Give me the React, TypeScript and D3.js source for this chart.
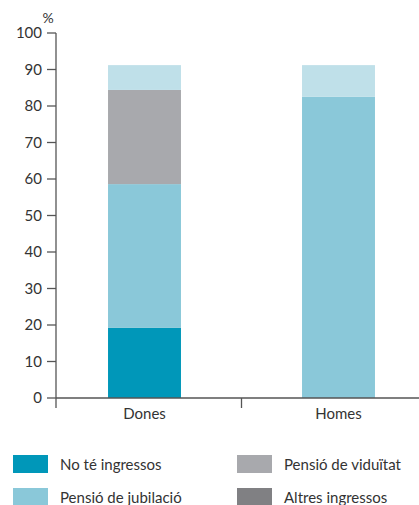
import React from "react";
import * as d3 from "d3";

const categories = ["Dones", "Homes"];
const seriesNames = ["No té ingressos", "Pensió de jubilació", "Pensió de viduïtat", "Altres"];
const noIngressos = [19.2, 0];
const jubilacio = [39.4, 82.5];
const viduitat = [25.8, 0];
const altres = [6.8, 8.7];
const seriesColors = ["#0097b9", "#8ac8d9", "#a8a9ad", "#bfe0e9"];
const yTicks = [0, 10, 20, 30, 40, 50, 60, 70, 80, 90, 100];
const legendItems = ["No té ingressos", "Pensió de viduïtat", "Pensió de jubilació", "Altres ingressos"];
const legendColors = ["#0097b9", "#a8a9ad", "#8ac8d9", "#808083"];

export default function App() {
  const W = 419, H = 505;
  const y = d3.scaleLinear().domain([0, 100]).range([398, 33]);
  const x = d3.scaleBand().domain(categories).range([47.5, 435.5]).paddingInner(0.624).paddingOuter(0.312);
  const rows = categories.map((c, i) => ({
    cat: c,
    [seriesNames[0]]: noIngressos[i],
    [seriesNames[1]]: jubilacio[i],
    [seriesNames[2]]: viduitat[i],
    [seriesNames[3]]: altres[i],
  }));
  const stacked = d3.stack<any>().keys(seriesNames)(rows);
  const font = "Lato, 'Open Sans', sans-serif";
  const txt = "#333";
  const axisColor = "#555";
  const step = x.step();
  return (
    <svg width={W} height={H} style={{ position: "absolute", left: 0, top: 0, background: "#fff" }}>
      {stacked.map((s, si) =>
        s.map((d, i) => (
          <rect key={si + "-" + i} x={x(categories[i])} width={x.bandwidth()} y={y(d[1])} height={Math.max(0, y(d[0]) - y(d[1]))} fill={seriesColors[si]} />
        ))
      )}
      <line x1={56} x2={56} y1={33} y2={408} stroke={axisColor} strokeWidth={1.3} />
      <line x1={56} x2={419} y1={398} y2={398} stroke={axisColor} strokeWidth={1.3} />
      {yTicks.map((t) => (
        <g key={t}>
          <line x1={47} x2={56} y1={y(t)} y2={y(t)} stroke={axisColor} strokeWidth={1.3} />
          <text x={42} y={y(t)} dy="0.35em" textAnchor="end" fontFamily={font} fontSize={15} fill={txt}>{t}</text>
        </g>
      ))}
      <text x={48} y={18} dy="0.35em" textAnchor="middle" fontFamily={font} fontSize={14} fill={txt}>%</text>
      {categories.slice(0, -1).map((c) => (
        <line key={c} x1={(x(c) as number) + x.bandwidth() / 2 + step / 2} x2={(x(c) as number) + x.bandwidth() / 2 + step / 2} y1={398} y2={408} stroke={axisColor} strokeWidth={1.3} />
      ))}
      {categories.map((c) => (
        <text key={c} x={(x(c) as number) + x.bandwidth() / 2} y={414} dy="0.35em" textAnchor="middle" fontFamily={font} fontSize={15} fill={txt}>{c}</text>
      ))}
      {legendItems.map((l, i) => {
        const col = i % 2, row = Math.floor(i / 2);
        const lx = col === 0 ? 13 : 237;
        const ly = 455 + row * 33;
        return (
          <g key={l}>
            <rect x={lx} y={ly} width={35} height={18} fill={legendColors[i]} />
            <text x={lx + 47} y={ly + 9.5} dy="0.35em" fontFamily={font} fontSize={15} fill={txt}>{l}</text>
          </g>
        );
      })}
    </svg>
  );
}
